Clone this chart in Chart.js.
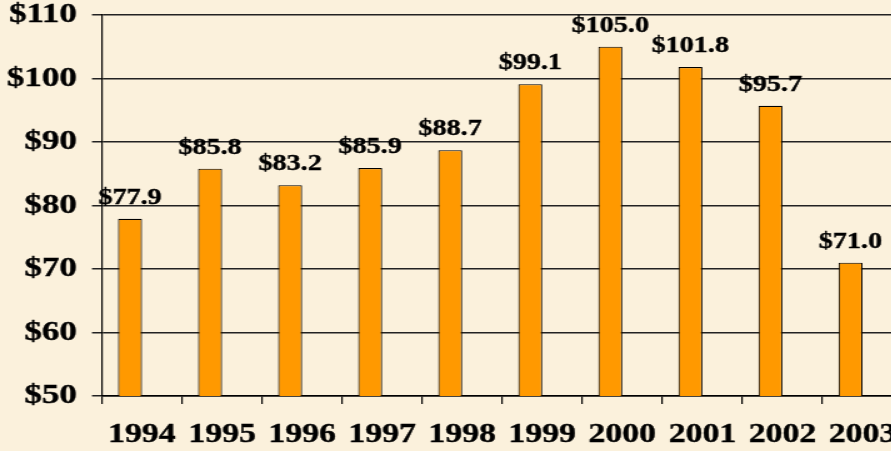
<!DOCTYPE html>
<html><head><meta charset="utf-8">
<script src="https://cdn.jsdelivr.net/npm/chart.js@4.4.0/dist/chart.umd.min.js"></script>
<style>
html,body{margin:0;padding:0;width:891px;height:451px;overflow:hidden;background:#FBF1DC;}
#wrap{position:absolute;left:0;top:0;width:722px;height:451px;transform:scaleX(1.25);transform-origin:0 0;}
canvas{display:block;}
</style></head><body>
<div id="wrap"><canvas id="c" width="722" height="451"></canvas></div>
<script>
const years = ['1994','1995','1996','1997','1998','1999','2000','2001','2002','2003'];
const values = [77.9, 85.8, 83.2, 85.9, 88.7, 99.1, 105.0, 101.8, 95.7, 71.0];
const emptySeries = [null, null, null, null, null, null, null, null, null, null];
const yTickValues = [50, 60, 70, 80, 90, 100, 110];

const FONT = "'Liberation Serif','Times New Roman',serif";

const labelPlugin = {
  id: 'barLabels',
  afterDatasetsDraw(chart) {
    const ctx = chart.ctx;
    const meta = chart.getDatasetMeta(0);
    ctx.save();
    ctx.font = 'bold 22.5px ' + FONT;
    ctx.fillStyle = '#000';
    ctx.strokeStyle = '#000';
    ctx.lineWidth = 0.4;
    ctx.textAlign = 'center';
    ctx.textBaseline = 'alphabetic';
    meta.data.forEach((bar, i) => {
      const t = '$' + values[i].toFixed(1);
      ctx.fillText(t, bar.x, bar.y - 15);
      ctx.strokeText(t, bar.x, bar.y - 15);
    });
    ctx.restore();
  }
};

new Chart(document.getElementById('c'), {
  type: 'bar',
  data: {
    labels: years,
    datasets: [
      { data: values, backgroundColor: '#FF9900', borderColor: '#000', borderWidth: 1.1, borderSkipped: false },
      { data: emptySeries, backgroundColor: '#FF9900' }
    ]
  },
  options: {
    responsive: false,
    animation: false,
    devicePixelRatio: 1,
    categoryPercentage: 0.6,
    barPercentage: 1.0,
    layout: { padding: { top: 15, right: 0, bottom: 0, left: 0 } },
    plugins: { legend: { display: false }, tooltip: { enabled: false } },
    scales: {
      x: {
        offset: true,
        grid: { display: true, drawOnChartArea: false, drawTicks: true, tickLength: 8, color: '#000', lineWidth: 1.2 },
        border: { display: true, color: '#000', width: 1.5 },
        ticks: { color: '#000', font: { family: FONT, size: 27, weight: 'bold' }, padding: 15, maxRotation: 0, autoSkip: false,
                 textStrokeColor: '#000', textStrokeWidth: 0.4 },
        afterFit(scale) { scale.height = 55; scale.paddingLeft = 0; scale.paddingRight = 0; }
      },
      y: {
        min: 50, max: 110,
        afterBuildTicks(scale) { scale.ticks = yTickValues.map(v => ({ value: v })); },
        grid: { color: '#222', lineWidth: 1.5, drawTicks: true, tickLength: 8 },
        border: { display: true, color: '#000', width: 1.2 },
        ticks: { color: '#000', font: { family: FONT, size: 28, weight: 'bold', lineHeight: 1.0 }, padding: 12,
                 textStrokeColor: '#000', textStrokeWidth: 0.4,
                 callback: (v) => '$' + v },
        afterFit(scale) { scale.width = 81.6; scale.paddingTop = 0; scale.paddingBottom = 0; }
      }
    }
  },
  plugins: [labelPlugin]
});
</script>
</body></html>
